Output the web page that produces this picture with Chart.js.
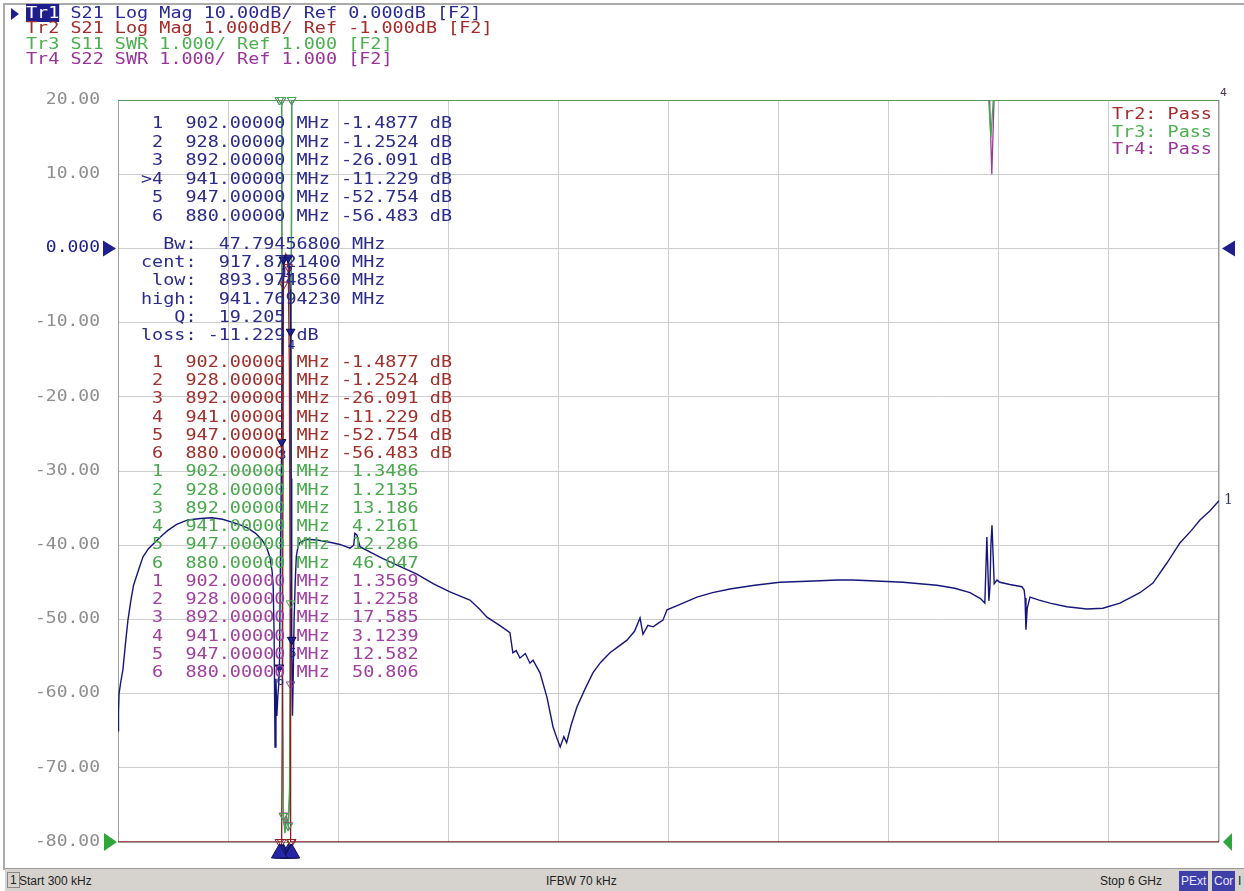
<!DOCTYPE html>
<html>
<head>
<meta charset="utf-8">
<script src="https://cdn.jsdelivr.net/npm/chart.js@4.4.1/dist/chart.umd.min.js"></script>
<style>
html, body { margin: 0; padding: 0; background: #fff; }
body { width: 1244px; height: 891px; position: relative; overflow: hidden; font-family: "DejaVu Sans Mono", monospace; }
#frame { position: absolute; left: 3px; top: 3px; width: 1241px; height: 865px; border-left: 2px solid #ababab; border-top: 2px solid #ababab; }
#wrap { position: absolute; left: 0; top: 0; width: 1244px; height: 868px; }
.txt { position: absolute; margin: 0; white-space: pre; font-size: 15px; transform-origin: 0 0; transform: scaleX(1.23); }
#hdr { left: 26px; top: 6px; line-height: 15.3px; }
#hdrArrow { position: absolute; left: 11px; top: 8px; width: 0; height: 0; border-top: 6px solid transparent; border-bottom: 6px solid transparent; border-left: 8px solid #1e1e8c; }
.tr1hl { background: #1e1e8c; color: #fff; }
#status { position: absolute; left: 5px; top: 868px; width: 1239px; height: 23px; background: #d6d3ce; border-top: 1px solid #9a9a9a; font-family: "Liberation Sans", sans-serif; font-size: 12px; color: #222; }
#status span { position: absolute; top: 5px; }
#status .blue { background: #3f3fa8; color: #e8e8ff; top: 2px; padding: 3px 2px; }
#status .box { border: 1px solid #888; padding: 0 2px; top: 3px; }
</style>
</head>
<body>
<div id="frame"></div>
<div id="wrap"><canvas id="vna"></canvas></div>
<div id="hdrArrow"></div>
<pre id="hdr" class="txt"><span style="color:#2a2a96"><span class="tr1hl">Tr1</span> S21 Log Mag 10.00dB/ Ref 0.000dB [F2]</span>
<span style="color:#a52a2a">Tr2 S21 Log Mag 1.000dB/ Ref -1.000dB [F2]</span>
<span style="color:#4caf50">Tr3 S11 SWR 1.000/ Ref 1.000 [F2]</span>
<span style="color:#993399">Tr4 S22 SWR 1.000/ Ref 1.000 [F2]</span></pre>
<pre id="pass" class="txt" style="left:1112px;top:106px;line-height:17.6px;"><span style="color:#a52a2a">Tr2: Pass</span>
<span style="color:#4caf50">Tr3: Pass</span>
<span style="color:#993399">Tr4: Pass</span></pre>
<pre id="tab1" class="txt" style="left:141px;top:114px;line-height:18.5px;color:#2b2b8a;"></pre>
<pre id="tabBw" class="txt" style="left:141px;top:235px;line-height:18.2px;color:#2b2b8a;"></pre>
<pre id="tab2" class="txt" style="left:141px;top:353px;line-height:18.24px;color:#a0302c;"></pre>
<pre id="tab3" class="txt" style="left:141px;top:462.4px;line-height:18.24px;color:#48a84c;"></pre>
<pre id="tab4" class="txt" style="left:141px;top:571.8px;line-height:18.24px;color:#a040a0;"></pre>
<div id="status">
  <span class="box" style="left:2px">1</span>
  <span style="left:14px">Start 300 kHz</span>
  <span style="left:541px">IFBW 70 kHz</span>
  <span style="left:1095px">Stop 6 GHz</span>
  <span class="blue" style="left:1174px">PExt</span>
  <span class="blue" style="left:1207px">Cor</span>
  <span style="left:1233px">I</span>
</div>
<script>
// sweep 300 kHz .. 6 GHz
const freqStartMHz = 0.3;
const freqStopMHz = 6000;
const freqGridStep = 600;

const yTickValues = [20, 10, 0, -10, -20, -30, -40, -50, -60, -70, -80];
const yTickLabels = ['20.00', '10.00', '0.000', '-10.00', '-20.00', '-30.00', '-40.00', '-50.00', '-60.00', '-70.00', '-80.00'];

// Tr1 / Tr2 : S21 (dB)
const tr1Freq = [0.3, 3, 6, 15, 27, 40, 54, 70, 85, 110,
  136, 165, 202, 240, 272, 320, 381, 450, 512, 570,
  621, 670, 708, 750, 785, 810, 828, 840, 846, 851,
  856, 861, 866, 871, 876, 880, 886, 892, 897, 902,
  908, 915, 921, 928, 934, 938, 941, 944, 947, 951,
  955, 960, 966, 972, 981, 992, 1030, 1084, 1155, 1210,
  1264, 1285, 1291, 1302, 1319, 1380, 1444, 1530, 1629, 1720,
  1809, 1918, 1970, 2011, 2080, 2136, 2152, 2170, 2191, 2220,
  2245, 2262, 2300, 2338, 2371, 2392, 2410, 2430, 2445, 2470,
  2501, 2545, 2588, 2630, 2681, 2730, 2774, 2815, 2845, 2861,
  2888, 2916, 2945, 2970, 2992, 3060, 3155, 3240, 3335, 3470,
  3607, 3720, 3825, 3920, 4005, 4100, 4190, 4278, 4370, 4463,
  4560, 4643, 4700, 4724, 4735, 4746, 4752, 4757, 4763, 4768,
  4775, 4790, 4806, 4860, 4926, 4938, 4943, 4948, 4955, 4970,
  5020, 5079, 5171, 5280, 5367, 5460, 5569, 5640, 5716, 5787,
  5850, 5896, 5950, 6000];
const tr1Db = [-65.0, -62.5, -60.0, -58.5, -56.8, -53.5, -50.2, -47.5, -45.4, -43.5,
  -41.6, -40.5, -39.6, -38.7, -38.0, -37.2, -36.6, -36.4, -36.3, -36.5,
  -36.9, -37.3, -37.7, -38.4, -39.3, -40.3, -41.6, -43.5, -45.5, -52.0,
  -67.2, -58.0, -63.0, -60.5, -58.8, -56.483, -41.0, -26.091, -6.5, -1.4877,
  -1.18, -1.08, -1.12, -1.2524, -2.6, -5.5, -11.229, -31.0, -52.754, -63.0,
  -58.0, -50.0, -45.0, -41.5, -40.2, -39.6, -39.2, -39.3, -39.6, -39.9,
  -40.4, -40.0, -38.4, -38.6, -40.2, -41.0, -41.8, -42.8, -43.9, -45.2,
  -46.3, -47.4, -48.6, -49.7, -50.8, -51.8, -54.5, -54.2, -55.2, -54.6,
  -55.9, -55.5, -57.2, -60.5, -64.5, -66.0, -67.2, -65.8, -66.6, -64.2,
  -61.8, -59.4, -57.2, -55.8, -54.5, -53.6, -52.8, -51.6, -49.8, -52.0,
  -50.8, -51.0, -50.5, -50.1, -48.7, -48.0, -47.0, -46.4, -45.9, -45.4,
  -45.0, -44.9, -44.8, -44.7, -44.7, -44.8, -44.9, -45.0, -45.2, -45.4,
  -45.8, -46.4, -47.2, -47.8, -38.9, -47.5, -45.6, -40.0, -37.3, -40.6,
  -45.2, -44.7, -45.0, -45.3, -45.6, -46.0, -47.1, -51.4, -48.5, -47.0,
  -47.4, -47.8, -48.3, -48.6, -48.5, -47.8, -46.4, -45.1, -42.4, -39.7,
  -38.0, -36.6, -35.4, -34.0];

// Tr3 : S11 SWR, Tr4 : S22 SWR (off-scale above 11 out of band)
const tr3Freq = [0.3, 300, 600, 850, 870, 880, 886, 892, 897, 902, 910, 918, 928, 935, 941, 947, 955, 1500, 3000, 4700, 4745, 4757, 4770, 4800, 6000];
const tr3Swr = [60, 45, 38, 32, 40, 46.047, 30, 13.186, 2.6, 1.3486, 1.12, 1.3, 1.2135, 1.7, 4.2161, 12.286, 30, 35, 28, 22, 14, 10.5, 15, 24, 18];
const tr4Freq = [0.3, 300, 600, 850, 870, 880, 886, 892, 897, 902, 910, 918, 928, 935, 941, 947, 955, 1500, 3000, 4700, 4750, 4762, 4774, 4800, 6000];
const tr4Swr = [70, 50, 40, 35, 45, 50.806, 32, 17.585, 3.2, 1.3569, 1.18, 1.35, 1.2258, 1.6, 3.1239, 12.582, 35, 38, 30, 25, 16, 10.0, 16, 26, 20];

// markers
const markerNums = [1, 2, 3, 4, 5, 6];
const markerFreq = [902, 928, 892, 941, 947, 880];
const tr1MarkerDb = [-1.4877, -1.2524, -26.091, -11.229, -52.754, -56.483];
const tr2MarkerDb = [-1.4877, -1.2524, -26.091, -11.229, -52.754, -56.483];
const tr3MarkerSwr = [1.3486, 1.2135, 13.186, 4.2161, 12.286, 46.047];
const tr4MarkerSwr = [1.3569, 1.2258, 17.585, 3.1239, 12.582, 50.806];
const activeMarker = 3;

// bandwidth search readout
const bwLabels = ['Bw:', 'cent:', 'low:', 'high:'];
const bwValues = ['47.79456800', '917.8721400', '893.9748560', '941.7694230'];
const qValue = '19.205';
const lossValue = '-11.229';

// trace scales: Tr1 10 dB/div ref 0, Tr2 1 dB/div ref -1, Tr3/Tr4 1/div ref 1 at bottom
const tr1Ref = 0;
const tr2Min = -9, tr2Max = 1;
const swrMin = 1, swrMax = 11;

const NAVY = '#1e1e8c';
const TR1 = '#16167a';
const TR2 = '#8e1d20';
const TR3 = '#3fae49';
const TR4 = '#9b3c9b';

const clamp = (v, lo, hi) => Math.min(hi, Math.max(lo, v));
const pts = (fs, vs, lo, hi) => fs.map((f, i) => ({ x: f, y: lo === undefined ? vs[i] : clamp(vs[i], lo, hi) }));

// readout tables
function markerRows(vals, unit, active) {
  return markerNums.map((n, i) => {
    const pre = i === active ? '>' : ' ';
    return pre + n + '  ' + markerFreq[i].toFixed(5) + ' MHz ' + vals[i].toPrecision(5).padStart(7) + (unit ? ' ' + unit : '');
  }).join('\n');
}
document.getElementById('tab1').textContent = markerRows(tr1MarkerDb, 'dB', activeMarker);
document.getElementById('tab2').textContent = markerRows(tr2MarkerDb, 'dB', -1);
document.getElementById('tab3').textContent = markerRows(tr3MarkerSwr, '', -1);
document.getElementById('tab4').textContent = markerRows(tr4MarkerSwr, '', -1);
const bwLines = bwLabels.map((l, i) => l.padStart(5) + '  ' + bwValues[i] + ' MHz');
bwLines.push('Q:'.padStart(5) + ' ' + qValue.padStart(7));
bwLines.push('loss:' + ' ' + lossValue.padStart(7) + ' dB');
document.getElementById('tabBw').textContent = bwLines.join('\n');

function tri(ctx, tipX, tipY, dir, w, h, color) {
  ctx.beginPath();
  ctx.moveTo(tipX, tipY);
  ctx.lineTo(tipX - dir * w, tipY - h);
  ctx.lineTo(tipX - dir * w, tipY + h);
  ctx.closePath();
  ctx.fillStyle = color;
  ctx.fill();
}

const overlay = {
  id: 'vnaOverlay',
  beforeDatasetsDraw(chart) {
    const { ctx, chartArea: a } = chart;
    ctx.save();
    ctx.strokeStyle = '#9c9c9c';
    ctx.lineWidth = 1;
    ctx.strokeRect(a.left + 0.5, a.top + 0.5, a.right - a.left - 1, a.bottom - a.top);
    ctx.restore();
  },
  afterDraw(chart) {
    const { ctx, chartArea: a, scales } = chart;
    const ys = scales.y;
    ctx.save();
    ctx.font = '15px "DejaVu Sans Mono"';
    ctx.textBaseline = 'middle';
    ctx.textAlign = 'right';
    ys.ticks.forEach(t => {
      const i = yTickValues.indexOf(t.value);
      if (i < 0) return;
      ctx.save();
      ctx.translate(a.left - 18, ys.getPixelForValue(t.value));
      ctx.scale(1.2, 1);
      ctx.fillStyle = t.value === tr1Ref ? NAVY : '#8e8e8e';
      ctx.fillText(yTickLabels[i], 0, 0);
      ctx.restore();
    });
    // reference position arrows
    const y1 = ys.getPixelForValue(tr1Ref);
    const y3 = scales.y3.getPixelForValue(swrMin);
    tri(ctx, a.left - 2, y1, 1, 13, 8, NAVY);
    tri(ctx, a.left - 1, y3, 1, 13, 9, '#2fa63a');
    tri(ctx, a.right + 3, y1, -1, 13, 8, NAVY);
    tri(ctx, a.right + 4, y3, -1, 9, 9, '#2fa63a');
    // stimulus indicators of the markers under the axis
    markerFreq.forEach(f => {
      const px = scales.x.getPixelForValue(f);
      ctx.beginPath();
      ctx.moveTo(px, a.bottom + 2);
      ctx.lineTo(px - 8, a.bottom + 16);
      ctx.lineTo(px + 8, a.bottom + 16);
      ctx.closePath();
      ctx.fillStyle = '#2626a6';
      ctx.fill();
      ctx.strokeStyle = '#10105a';
      ctx.lineWidth = 1;
      ctx.stroke();
    });
    // marker numbers on Tr1
    ctx.textAlign = 'center';
    ctx.font = '12px "DejaVu Sans"';
    ctx.fillStyle = NAVY;
    chart.getDatasetMeta(4).data.forEach((p, i) => {
      ctx.fillText(String(markerNums[i]), p.x + 1, p.y + 14);
    });
    // trace end labels
    const m1 = chart.getDatasetMeta(0).data;
    ctx.textAlign = 'left';
    ctx.font = '14px "DejaVu Serif"';
    ctx.fillStyle = '#333366';
    ctx.fillText('1', a.right + 5, m1[m1.length - 1].y);
    ctx.font = '11px "DejaVu Sans"';
    ctx.fillStyle = '#553355';
    ctx.fillText('4', a.right + 1, a.top - 7);
    ctx.restore();
  }
};

new Chart(document.getElementById('vna'), {
  type: 'line',
  data: {
    datasets: [
      { label: 'Tr1', data: pts(tr1Freq, tr1Db), yAxisID: 'y', borderColor: TR1, borderWidth: 1.4, pointRadius: 0, order: 1 },
      { label: 'Tr2', data: pts(tr1Freq, tr1Db, tr2Min, tr2Max), yAxisID: 'y2', borderColor: TR2, borderWidth: 1.3, pointRadius: 0, order: 2 },
      { label: 'Tr3', data: pts(tr3Freq, tr3Swr, swrMin, swrMax), yAxisID: 'y3', borderColor: TR3, borderWidth: 1.3, pointRadius: 0, order: 3 },
      { label: 'Tr4', data: pts(tr4Freq, tr4Swr, swrMin, swrMax), yAxisID: 'y3', borderColor: TR4, borderWidth: 1.3, pointRadius: 0, order: 4 },
      { label: 'Tr1 markers', data: pts(markerFreq, tr1MarkerDb), yAxisID: 'y', showLine: false, pointStyle: 'triangle', rotation: 180, pointRadius: 5, pointBackgroundColor: NAVY, pointBorderColor: '#0a0a50', pointBorderWidth: 1, clip: false, order: 0 },
      { label: 'Tr2 markers', data: pts(markerFreq, tr2MarkerDb, tr2Min, tr2Max), yAxisID: 'y2', showLine: false, pointStyle: 'triangle', rotation: 180, pointRadius: 5, pointBackgroundColor: 'rgba(0,0,0,0)', pointBorderColor: TR2, pointBorderWidth: 1, clip: false, order: 0 },
      { label: 'Tr3 markers', data: pts(markerFreq, tr3MarkerSwr, swrMin, swrMax), yAxisID: 'y3', showLine: false, pointStyle: 'triangle', rotation: 180, pointRadius: 5, pointBackgroundColor: 'rgba(0,0,0,0)', pointBorderColor: TR3, pointBorderWidth: 1, clip: false, order: 0 },
      { label: 'Tr4 markers', data: pts(markerFreq, tr4MarkerSwr, swrMin, swrMax), yAxisID: 'y3', showLine: false, pointStyle: 'triangle', rotation: 180, pointRadius: 5, pointBackgroundColor: 'rgba(0,0,0,0)', pointBorderColor: TR4, pointBorderWidth: 1, clip: false, order: 0 }
    ]
  },
  options: {
    responsive: true,
    maintainAspectRatio: false,
    animation: false,
    layout: { padding: { top: 100, right: 25, bottom: 26, left: 0 } },
    plugins: { legend: { display: false }, tooltip: { enabled: false } },
    elements: { line: { tension: 0 } },
    scales: {
      x: {
        type: 'linear', min: freqStartMHz, max: freqStopMHz,
        ticks: { display: false, stepSize: freqGridStep },
        grid: { color: '#cdcdcd', drawTicks: false },
        border: { display: false },
        afterFit(s) { s.height = 0; }
      },
      y: {
        min: -80, max: 20,
        ticks: { display: false, stepSize: 10 },
        grid: { color: '#cdcdcd', drawTicks: false },
        border: { display: false },
        afterFit(s) { s.width = 118; }
      },
      y2: { display: false, min: tr2Min, max: tr2Max },
      y3: { display: false, min: swrMin, max: swrMax }
    }
  },
  plugins: [overlay]
});
</script>
</body>
</html>
